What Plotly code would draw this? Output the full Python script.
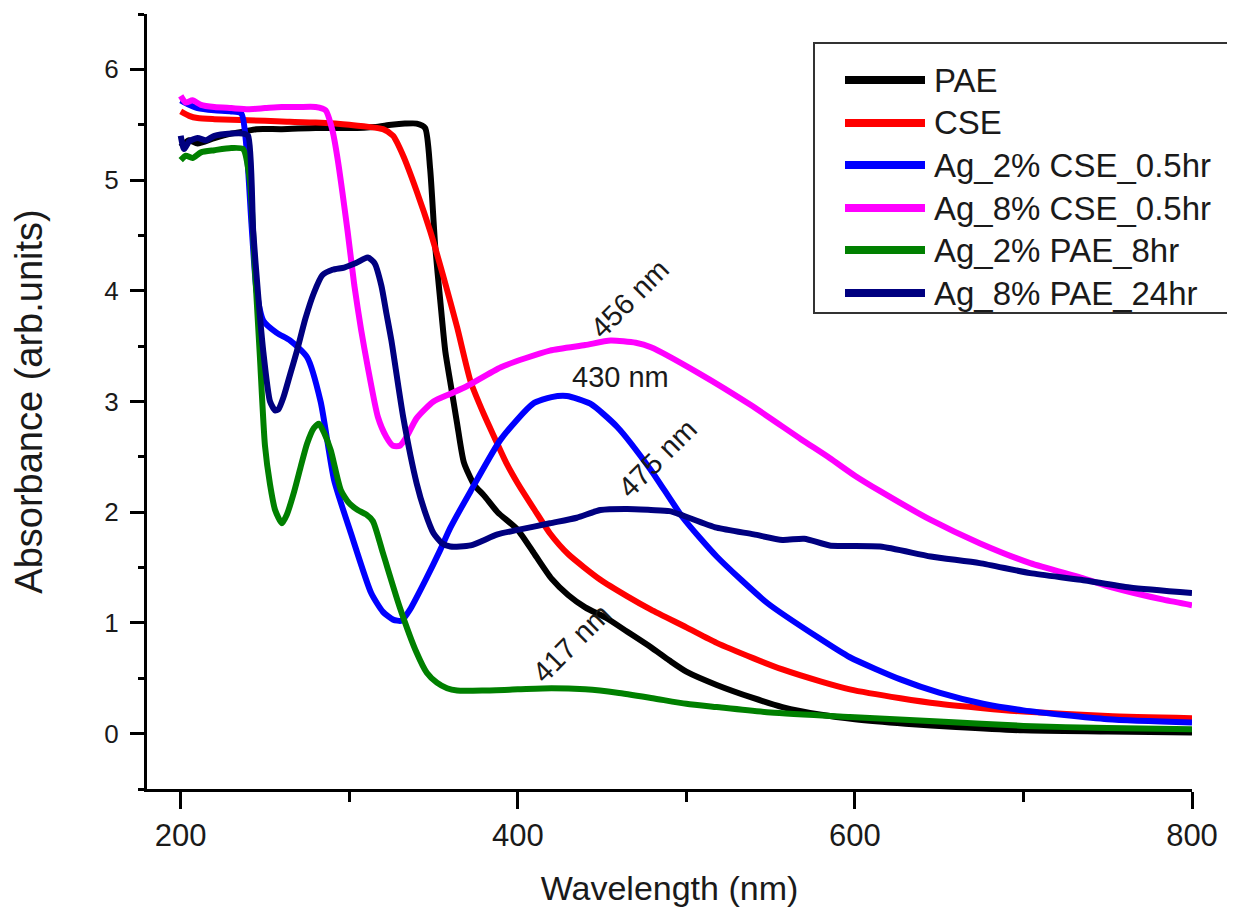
import plotly.graph_objects as go

# ---------------- data ----------------
pae_x = [200, 205, 210, 220, 230, 238, 245, 260, 280, 300, 315, 325, 333, 340, 345, 348, 351, 354, 357, 360,
         364, 368, 374, 380, 388, 400, 410, 420, 430, 440, 453, 465, 479, 490, 500, 518, 540, 557, 580, 600,
         630, 660, 700, 750, 800]
pae_y = [5.30, 5.36, 5.33, 5.38, 5.42, 5.44, 5.46, 5.46, 5.47, 5.47, 5.48, 5.50, 5.51, 5.51, 5.47, 5.10, 4.40, 3.91, 3.45, 3.17,
         2.80, 2.45, 2.25, 2.15, 2.00, 1.84, 1.62, 1.40, 1.25, 1.14, 1.04, 0.92, 0.78, 0.66, 0.56, 0.44, 0.32, 0.24, 0.17, 0.13,
         0.09, 0.06, 0.03, 0.02, 0.01]

cse_x = [200, 205, 210, 220, 240, 260, 280, 300, 320, 326, 332, 340, 348, 356, 364, 372, 380, 386, 393, 400,
         410, 419, 430, 449, 465, 479, 500, 518, 540, 557, 580, 597, 627, 650, 676, 700, 750, 800]
cse_y = [5.62, 5.58, 5.56, 5.55, 5.54, 5.53, 5.52, 5.50, 5.46, 5.40, 5.22, 4.90, 4.54, 4.12, 3.67, 3.18, 2.88, 2.68, 2.45, 2.26,
         2.02, 1.81, 1.62, 1.39, 1.24, 1.12, 0.96, 0.82, 0.68, 0.58, 0.47, 0.40, 0.32, 0.27, 0.23, 0.20, 0.16, 0.14]

ag2cse_x = [200, 205, 210, 220, 230, 236, 239, 242, 245, 249, 257, 265, 275, 283, 291, 301, 313, 320, 326, 331,
            336, 345, 354, 360, 372, 390, 409, 420, 429, 443, 459, 479, 498, 518, 548, 578, 597, 627, 650, 676,
            700, 750, 800]
ag2cse_y = [5.72, 5.68, 5.65, 5.63, 5.62, 5.60, 5.30, 4.60, 4.00, 3.73, 3.62, 3.55, 3.40, 3.00, 2.29, 1.81, 1.27, 1.10, 1.03, 1.02,
            1.12, 1.38, 1.66, 1.86, 2.19, 2.66, 2.98, 3.04, 3.05, 2.98, 2.77, 2.38, 1.95, 1.60, 1.18, 0.87, 0.69, 0.49, 0.37, 0.27,
            0.21, 0.13, 0.10]

ag8cse_x = [200, 203, 207, 212, 220, 230, 240, 250, 260, 270, 280, 286, 290, 293, 299, 303, 307, 311, 317, 322,
            326, 330, 334, 340, 350, 360, 370, 390, 419, 440, 455, 470, 479, 508, 538, 568, 585, 600, 615, 645,
            674, 704, 734, 753, 783, 800]
ag8cse_y = [5.76, 5.70, 5.72, 5.68, 5.66, 5.65, 5.64, 5.65, 5.66, 5.66, 5.66, 5.63, 5.45, 5.20, 4.54, 4.05, 3.65, 3.31, 2.86, 2.68,
            2.60, 2.60, 2.68, 2.85, 3.00, 3.07, 3.14, 3.31, 3.46, 3.51, 3.55, 3.53, 3.49, 3.25, 2.97, 2.66, 2.49, 2.33, 2.19, 1.93,
            1.72, 1.54, 1.41, 1.32, 1.21, 1.16]

ag2pae_x = [200, 203, 207, 212, 220, 230, 237, 241, 244, 247, 250, 253, 256, 260, 263, 267, 271, 275, 279, 282,
            285, 289, 295, 300, 305, 310, 314, 320, 330, 340, 346, 352, 358, 364, 380, 400, 420, 440, 459, 480,
            500, 518, 550, 597, 650, 700, 750, 800]
ag2pae_y = [5.18, 5.22, 5.20, 5.25, 5.27, 5.29, 5.28, 5.00, 4.20, 3.40, 2.60, 2.25, 2.02, 1.90, 1.98, 2.17, 2.40, 2.62, 2.76, 2.80,
            2.72, 2.56, 2.20, 2.08, 2.02, 1.98, 1.92, 1.63, 1.14, 0.73, 0.55, 0.46, 0.41, 0.39, 0.39, 0.40, 0.41, 0.40, 0.37, 0.32,
            0.27, 0.24, 0.19, 0.15, 0.11, 0.07, 0.05, 0.04]

ag8pae_x = [200, 202, 205, 210, 215, 220, 230, 237, 240, 243, 246, 249, 253, 256, 258, 261, 265, 269, 274, 279,
            284, 290, 297, 304, 311, 315, 319, 322, 325, 332, 340, 345, 350, 355, 360, 372, 388, 400, 419, 435,
            449, 465, 479, 490, 498, 518, 540, 557, 570, 585, 615, 645, 674, 704, 734, 763, 800]
ag8pae_y = [5.40, 5.28, 5.35, 5.38, 5.36, 5.40, 5.42, 5.42, 5.40, 4.54, 3.95, 3.45, 3.00, 2.92, 2.93, 3.04, 3.25, 3.46, 3.75, 3.98,
            4.14, 4.19, 4.21, 4.25, 4.30, 4.25, 4.05, 3.80, 3.55, 2.86, 2.26, 2.00, 1.81, 1.72, 1.69, 1.70, 1.80, 1.84, 1.90, 1.95,
            2.02, 2.03, 2.02, 2.01, 1.97, 1.86, 1.80, 1.75, 1.76, 1.70, 1.69, 1.60, 1.54, 1.45, 1.39, 1.32, 1.27]

series_names = ["PAE", "CSE", "Ag_2% CSE_0.5hr", "Ag_8% CSE_0.5hr", "Ag_2% PAE_8hr", "Ag_8% PAE_24hr"]
series_x = [pae_x, cse_x, ag2cse_x, ag8cse_x, ag2pae_x, ag8pae_x]
series_y = [pae_y, cse_y, ag2cse_y, ag8cse_y, ag2pae_y, ag8pae_y]
series_colors = ["#000000", "#FF0000", "#0000FF", "#FF00FF", "#008000", "#000080"]

peak_labels = ["456 nm", "430 nm", "475 nm", "417 nm"]
peak_x = [466, 461, 483, 432]
peak_y = [3.93, 3.22, 2.49, 0.82]
peak_angle = [-45, 0, -45, -45]

x_ticks = [200, 400, 600, 800]
y_ticks = [0, 1, 2, 3, 4, 5, 6]

# ---------------- layout constants ----------------
# the page body adds an 8px offset, so the figure is made 8px smaller
OFF = 8
W, H = 1235 - OFF, 918 - OFF
L, T = 147 - OFF, 14 - OFF            # plot area left/top on screen: 147, 14
PR, PB = 1192 - OFF, 789 - OFF        # plot area right/bottom on screen: 1192, 789
R, B = W - PR, H - PB
FONT = "Arial, Liberation Sans, sans-serif"
TXT = "#1a1a1a"


def px_to_paper(px, py):
    fx, fy = px - OFF, py - OFF
    return (fx - L) / (PR - L), (PB - fy) / (PB - T)


fig = go.Figure()
for name, xs, ys, col in zip(series_names, series_x, series_y, series_colors):
    fig.add_trace(go.Scatter(x=xs, y=ys, name=name, mode="lines",
                             line=dict(color=col, width=6, shape="spline", smoothing=0.6),
                             showlegend=False))

# peak annotations
for lab, xx, yy, ang in zip(peak_labels, peak_x, peak_y, peak_angle):
    fig.add_annotation(x=xx, y=yy, xref="x", yref="y", text=lab, showarrow=False,
                       textangle=ang, font=dict(family=FONT, size=29, color=TXT))

# legend drawn as box + sample lines + text
shapes = []
bx0, by0 = px_to_paper(814, 313)
bx1, by1 = px_to_paper(1232, 43)
shapes.append(dict(type="rect", xref="paper", yref="paper", x0=bx0, y0=by0, x1=bx1, y1=by1,
                   line=dict(color="#333333", width=2), fillcolor="rgba(255,255,255,0)", layer="above"))
row_py = [80, 123, 165, 208, 250, 293]
for name, col, rp in zip(series_names, series_colors, row_py):
    lx0, ly = px_to_paper(845, rp)
    lx1, _ = px_to_paper(925, rp)
    shapes.append(dict(type="line", xref="paper", yref="paper", x0=lx0, x1=lx1, y0=ly, y1=ly,
                       line=dict(color=col, width=8), layer="above"))
    tx, _ = px_to_paper(932, rp)
    fig.add_annotation(x=tx, y=ly, xref="paper", yref="paper", text=name, showarrow=False,
                       xanchor="left", yanchor="middle",
                       font=dict(family=FONT, size=33, color=TXT))

axis_common = dict(showline=True, linecolor="black", linewidth=3, ticks="outside",
                   tickcolor="black", tickwidth=3, showgrid=False, zeroline=False, mirror=False)

fig.update_layout(
    width=W, height=H,
    margin=dict(l=L, r=R, t=T, b=B, autoexpand=False),
    paper_bgcolor="white", plot_bgcolor="white",
    showlegend=False,
    shapes=shapes,
    xaxis=dict(range=[180, 800], tickvals=x_ticks, ticklen=17,
               minor=dict(dtick=100, tick0=200, ticks="outside", ticklen=10, tickwidth=3, tickcolor="black"),
               tickfont=dict(family=FONT, size=31, color=TXT), ticklabelstandoff=0,
               title=dict(text="Wavelength (nm)", font=dict(family=FONT, size=34, color=TXT), standoff=24),
               **axis_common),
    yaxis=dict(range=[-0.5, 6.5], tickvals=y_ticks, ticklen=14,
               minor=dict(dtick=0.5, tick0=0, ticks="outside", ticklen=6, tickwidth=3, tickcolor="black"),
               tickfont=dict(family=FONT, size=26, color=TXT), ticklabelstandoff=6,
               title=dict(text="Absorbance (arb.units)", font=dict(family=FONT, size=38, color=TXT), standoff=54),
               **axis_common),
)

fig.write_html("out.html")
